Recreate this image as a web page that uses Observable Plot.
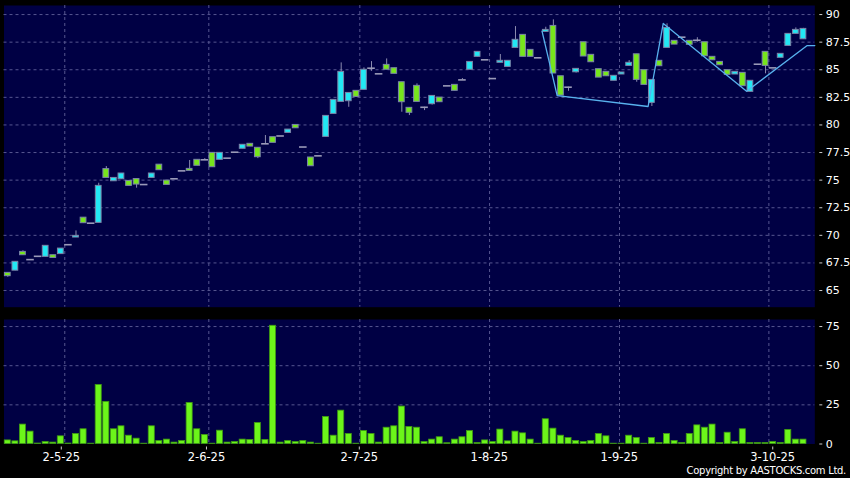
<!DOCTYPE html>
<html><head><meta charset="utf-8">
<script src="https://cdn.jsdelivr.net/npm/d3@7"></script>
<script src="https://cdn.jsdelivr.net/npm/@observablehq/plot@0.6"></script>
<style>
html,body{margin:0;padding:0;background:#000;}
#chart{position:relative;width:850px;height:478px;background:#000;overflow:hidden;font-family:"DejaVu Sans",sans-serif;}
#chart svg{display:block;}
#copy{position:absolute;right:4px;top:466px;color:#fff;font-size:10px;line-height:10px;letter-spacing:-0.3px;white-space:nowrap;}
</style></head><body>
<div id="chart"></div>
<script>
// ---- data (one entry per trading day, oldest first) ----
const openP  = [66.6,66.8,68.5,67.8,68.1,68.05,68.2,68.3,69.15,69.8,71.6,71.1,71.13,76.0,74.9,75.08,74.93,75.1,74.6,75.2,76.4,74.96,75.12,75.84,76.02,76.84,76.84,77.47,76.84,76.99,77.53,77.84,78.29,77.93,78.29,78.89,79.0,79.28,80.0,78.0,77.05,77.2,78.92,81.0,82.09,82.15,83.09,83.18,85.14,84.63,85.44,85.14,83.87,81.55,83.54,81.6,81.88,82.48,83.54,83.63,84.08,85.0,86.17,85.9,84.2,85.63,85.26,86.98,88.16,86.8,86.08,88.43,88.97,84.41,83.42,84.77,87.49,86.35,85.05,84.81,84.0,84.57,85.35,86.4,84.96,82.0,85.81,86.98,87.62,87.95,87.62,87.67,87.49,86.17,85.71,84.96,84.57,84.72,83.0,85.5,86.62,85.17,86.08,87.16,88.25,87.76];
const closeP = [66.3,67.6,68.2,67.8,68.1,69.05,67.95,68.8,69.15,69.95,71.1,71.1,74.48,75.2,75.2,75.6,74.48,74.6,74.6,75.6,75.9,74.57,75.12,75.84,75.84,76.3,76.84,76.17,77.47,76.99,77.53,78.2,78.04,77.08,78.29,78.38,79.0,79.58,79.7,78.0,76.26,77.2,80.82,82.27,84.81,82.9,82.54,85.0,85.14,84.63,85.0,84.63,82.06,81.1,82.09,81.6,82.63,82.06,83.54,83.09,84.08,85.71,86.62,85.9,84.2,85.81,85.81,87.71,86.17,86.17,86.08,88.61,84.66,82.66,83.42,85.08,86.2,85.68,84.29,84.41,84.45,84.75,85.63,84.08,83.63,84.08,85.32,88.79,87.28,87.95,87.26,87.67,86.22,85.86,85.41,84.54,84.81,83.51,84.0,85.5,85.35,85.17,86.44,88.25,88.61,88.7];
const highP  = [66.6,67.6,68.6,67.8,68.1,69.05,68.2,68.8,69.15,70.4,71.6,71.1,74.72,76.23,75.2,75.6,74.93,75.1,74.6,75.6,76.4,74.96,75.12,75.84,76.78,76.84,76.95,77.47,77.47,76.99,77.53,78.2,78.29,77.93,79.04,78.89,79.0,79.58,80.0,78.0,77.05,77.2,80.82,82.27,85.62,82.9,83.09,85.17,85.74,84.63,85.98,85.14,83.87,81.55,83.72,81.6,82.63,82.48,83.54,83.63,84.2,85.71,86.62,85.9,84.2,86.38,85.81,88.91,88.16,86.8,86.08,88.85,89.52,84.41,83.42,85.08,87.49,86.35,85.05,84.81,84.45,84.75,85.83,86.4,84.96,84.08,85.81,89.16,87.62,87.95,87.62,87.9,87.49,86.17,85.71,84.96,84.81,84.72,84.0,85.5,86.62,85.17,86.44,88.25,88.79,88.75];
const lowP   = [66.2,66.8,68.2,67.8,68.1,68.05,67.95,68.3,69.15,69.8,71.1,71.1,71.13,75.2,74.9,75.08,74.48,74.27,74.6,75.2,75.9,74.57,75.12,75.84,75.84,76.3,76.84,76.17,76.84,76.99,77.53,77.84,78.04,76.95,78.29,78.38,79.0,79.28,79.7,78.0,76.26,77.2,78.92,81.0,82.09,81.6,82.54,83.18,84.86,84.63,85.0,84.63,81.15,80.85,82.09,81.3,81.8,82.06,83.54,83.09,84.08,85.0,86.17,85.9,84.2,85.63,85.26,86.98,86.17,86.17,86.08,88.43,84.66,82.66,83.05,84.7,86.2,85.68,84.29,84.41,84.0,84.57,85.35,83.87,83.63,81.67,85.32,86.98,87.28,87.95,87.26,87.5,86.22,85.86,85.41,84.54,84.57,83.51,83.0,85.5,84.63,85.17,86.08,87.16,88.25,87.76];
const volume = [2.3,1.7,12.4,7.9,0.3,1.3,0.9,4.9,0.3,6.4,9.4,0.2,37.7,26.9,9.4,11.3,5.3,3.4,0.2,11.3,1.9,2.8,0.9,1.9,26.2,9.4,5.8,0.2,8.5,0.9,1.3,2.8,2.6,13.4,2.6,75.5,0.9,1.9,1.3,1.9,0.9,0.2,17.3,5.3,21.3,6.4,0.2,8.3,6.4,0.9,10.4,11.3,23.9,10.9,10.4,1.3,2.8,4.3,0.5,2.8,4.3,8.3,0.6,2.3,1.3,9.2,1.7,7.9,6.8,2.8,0.2,15.8,9.8,5.3,3.8,1.9,1.3,1.9,6.4,4.9,0.2,0.2,5.3,3.8,0.2,3.8,0.6,6.4,1.9,0.6,6.4,11.9,10.4,12.4,0.6,7.2,1.3,9.4,0.6,0.6,0.6,1.3,0.6,9.0,2.8,2.8];
// zigzag indicator vertices (day position, price)
const zigzagPos = [70.5,72.5,84.5,86.5,97.5,105.5,106.5];
const zigzagVal = [88.49,82.66,81.67,89.2,83.05,87.19,87.19];
// axis ticks
const priceTicks = [65,67.5,70,72.5,75,77.5,80,82.5,85,87.5,90];
const volTicks = [0,25,50,75];
const dateLabels = ["2-5-25","2-6-25","2-7-25","1-8-25","1-9-25","3-10-25"];
const dateLabelPos = [7.06,26.22,46.39,63.55,80.70,100.95];
const dateGridPos = [7.52,26.53,46.46,63.58,80.73,100.44];

// ---- build ----
const N = openP.length;
const candles = d3.range(N).map(i => ({i, open: openP[i], close: closeP[i], high: highP[i], low: lowP[i]}));
const bodies = candles.filter(d => d.open !== d.close);
const dojis = candles.filter(d => d.open === d.close);
const vols = volume.map((v, i) => ({i, v}));
const zz = zigzagPos.map((p, k) => ({p, v: zigzagVal[k]}));
const labelMap = new Map(dateLabelPos.map((p, k) => [p, dateLabels[k]]));

const BG = "#000044", GRID = "#565690", CYAN = "#22e8f4", GREEN = "#77e61c", VGREEN = "#6cf51a", EDGE = "#7a84a8";
const xDomain = [-0.5, N + 0.5];
const font = {background: "transparent", color: "#fff", fontFamily: "DejaVu Sans, sans-serif", fontSize: "11px", overflow: "visible"};

const price = Plot.plot({
  width: 850, height: 312,
  marginLeft: 3.5, marginRight: 35.7, marginTop: 5, marginBottom: 5.3,
  style: font,
  x: {domain: xDomain, axis: null},
  y: {domain: [63.49, 90.82], axis: null},
  marks: [
    Plot.frame({fill: BG, stroke: null}),
    Plot.ruleY(priceTicks, {stroke: GRID, strokeDasharray: "3 3"}),
    Plot.ruleX(dateGridPos, {stroke: GRID, strokeDasharray: "3 3"}),
    Plot.ruleX(candles, {x: "i", y1: "low", y2: "high", stroke: "#8c8cb0", strokeWidth: 1}),
    Plot.rect(bodies, {x1: d => d.i - 0.38, x2: d => d.i + 0.38, y1: "open", y2: "close",
      fill: d => d.close > d.open ? CYAN : GREEN, stroke: EDGE, strokeWidth: 1}),
    Plot.ruleY(dojis, {x1: d => d.i - 0.5, x2: d => d.i + 0.5, y: "close", stroke: "#9a9ab8", strokeWidth: 1.6}),
    Plot.line(zz, {x: "p", y: "v", stroke: "#58b2ee", strokeWidth: 1.3}),
    Plot.axisY(priceTicks, {anchor: "right", label: null, tickSize: 3, tickPadding: 4, dx: 4, stroke: "#ccc", fill: "#fff",
      tickFormat: d => String(d), fontSize: 11})
  ]
});

const vol = Plot.plot({
  width: 850, height: 166,
  marginLeft: 3.5, marginRight: 35.7, marginTop: 7, marginBottom: 34.5,
  style: font,
  x: {domain: xDomain, axis: null},
  y: {domain: [0, 79.5], axis: null},
  marks: [
    Plot.frame({fill: BG, stroke: null}),
    Plot.ruleY([25, 50, 75], {stroke: GRID, strokeDasharray: "3 3"}),
    Plot.ruleX(dateGridPos, {stroke: GRID, strokeDasharray: "3 3"}),
    Plot.rectY(vols, {x1: d => d.i - 0.4, x2: d => d.i + 0.4, y: "v", fill: VGREEN, stroke: "#3f9a12", strokeWidth: 0.8}),
    Plot.axisY(volTicks, {anchor: "right", label: null, tickSize: 3, tickPadding: 4, dx: 4, stroke: "#ccc", fill: "#fff",
      tickFormat: d => String(d), fontSize: 11}),
    Plot.axisX(dateLabelPos, {anchor: "bottom", label: null, tickSize: 3, tickPadding: 3, dy: 3, stroke: "#ccc", fill: "#fff",
      tickFormat: d => labelMap.get(d), fontSize: 11.5})
  ]
});

const root = document.getElementById("chart");
root.appendChild(price);
root.appendChild(vol);
const c = document.createElement("div");
c.id = "copy";
c.textContent = "Copyright by AASTOCKS.com Ltd.";
root.appendChild(c);
</script>
</body></html>
